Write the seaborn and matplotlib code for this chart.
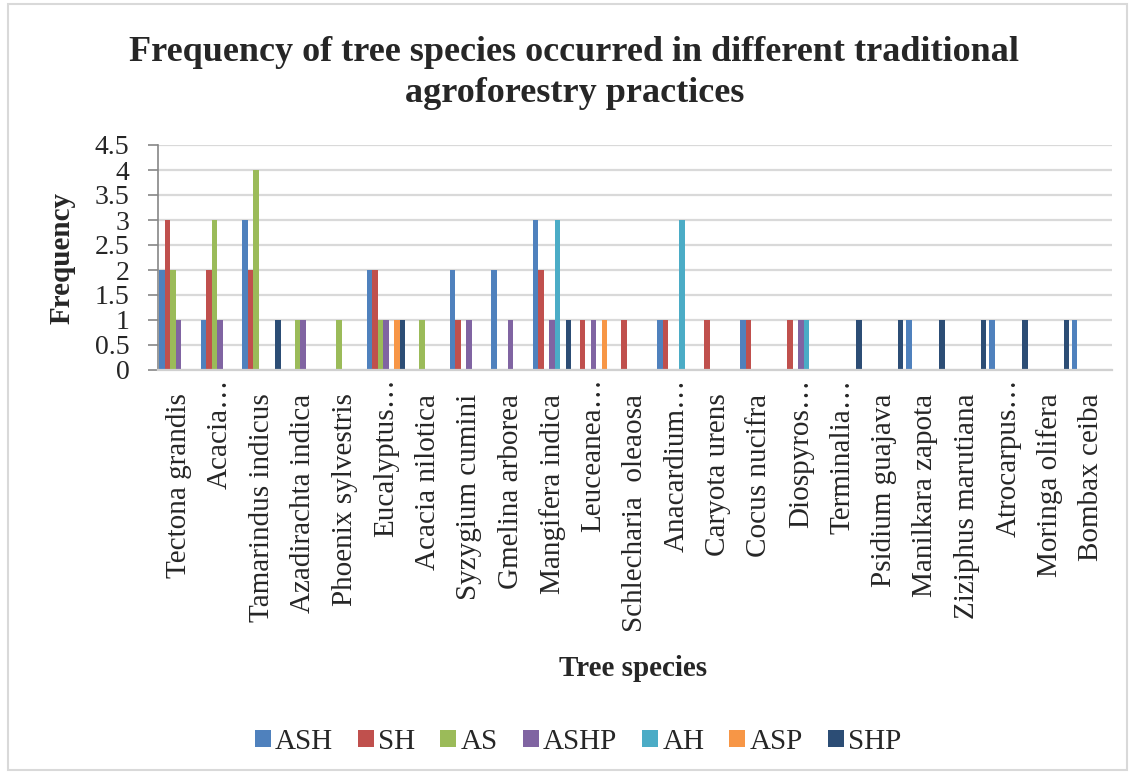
import matplotlib
matplotlib.use("Agg")
import matplotlib.pyplot as plt
import matplotlib.transforms as mtransforms
from matplotlib.patches import Patch, Rectangle
from matplotlib.ticker import FormatStrFormatter
import seaborn as sns
import pandas as pd
import numpy as np

species = ["Tectona grandis", "Acacia…", "Tamarindus indicus", "Azadirachta indica",
           "Phoenix sylvestris", "Eucalyptus…", "Acacia nilotica", "Syzygium cumini",
           "Gmelina arborea", "Mangifera indica", "Leuceanea…", "Schlecharia  oleaosa",
           "Anacardium…", "Caryota urens", "Cocus nucifra", "Diospyros…", "Terminalia…",
           "Psidium guajava", "Manilkara zapota", "Ziziphus marutiana", "Atrocarpus…",
           "Moringa olifera", "Bombax ceiba"]
series = ["ASH", "SH", "AS", "ASHP", "AH", "ASP", "SHP"]

ash  = [2, 1, 3, 0, 0, 2, 0, 2, 2, 3, 0, 0, 1, 0, 1, 0, 0, 0, 1, 0, 1, 0, 1]
sh   = [3, 2, 2, 0, 0, 2, 0, 1, 0, 2, 1, 1, 1, 1, 1, 1, 0, 0, 0, 0, 0, 0, 0]
as_  = [2, 3, 4, 1, 1, 1, 1, 0, 0, 0, 0, 0, 0, 0, 0, 0, 0, 0, 0, 0, 0, 0, 0]
ashp = [1, 1, 0, 1, 0, 1, 0, 1, 1, 1, 1, 0, 0, 0, 0, 1, 0, 0, 0, 0, 0, 0, 0]
ah   = [0, 0, 0, 0, 0, 0, 0, 0, 0, 3, 0, 0, 3, 0, 0, 1, 0, 0, 0, 0, 0, 0, 0]
asp  = [0, 0, 0, 0, 0, 1, 0, 0, 0, 0, 1, 0, 0, 0, 0, 0, 0, 0, 0, 0, 0, 0, 0]
shp  = [0, 0, 1, 0, 0, 1, 0, 0, 0, 1, 0, 0, 0, 0, 0, 0, 1, 1, 1, 1, 1, 1, 0]

colors = ["#4F81BD", "#C0504D", "#9BBB59", "#8064A2", "#4BACC6", "#F79646", "#2C4D75"]

values = {"ASH": ash, "SH": sh, "AS": as_, "ASHP": ashp, "AH": ah, "ASP": asp, "SHP": shp}
rows = []
for s in series:
    for sp, v in zip(species, values[s]):
        rows.append({"species": sp, "series": s, "freq": v})
df = pd.DataFrame(rows)

sns.set_theme(style="white")
plt.rcParams["font.family"] = ["Liberation Serif", "DejaVu Serif"]

W, H = 1133, 772
fig = plt.figure(figsize=(W / 100, H / 100), dpi=100)
ax = fig.add_axes([158 / W, 1 - 370 / H, (1112 - 158) / W, (370 - 145) / H])

sns.barplot(data=df, x="species", y="freq", hue="series", hue_order=series,
            order=species, palette=colors, width=0.93, ax=ax, linewidth=0,
            saturation=1, legend=False, errorbar=None)

ax.set_xlim(-0.5, len(species) - 0.5)
ax.set_ylim(0, 4.5)
ax.set_yticks(np.arange(0, 4.51, 0.5))
ax.yaxis.set_major_formatter(FormatStrFormatter("%g"))
ax.yaxis.grid(True, color="#D9D9D9", lw=1.6)
ax.xaxis.grid(False)
ax.set_axisbelow(True)
for side in ["top", "right"]:
    ax.spines[side].set_visible(False)
ax.spines["left"].set_color("#868686")
ax.spines["left"].set_linewidth(1.2)
ax.spines["bottom"].set_color("#D0D0D0")
ax.spines["bottom"].set_linewidth(1.6)

ax.tick_params(axis="y", direction="out", length=7, width=1.2, color="#868686",
               pad=13.5, labelsize=20, left=True)
ax.tick_params(axis="x", length=0, pad=17, labelsize=21)
ax.set_xticks(range(len(species)))
ax.set_xticklabels(species, rotation=90, va="top", ha="center")
# truncated (ellipsis) labels sit a little higher, as in the reference
shift = mtransforms.ScaledTranslation(0, 15 / 100, fig.dpi_scale_trans)
for lab in ax.get_xticklabels():
    if lab.get_text().endswith("…"):
        lab.set_transform(lab.get_transform() + shift)
ax.set_xlabel("")
ax.set_ylabel("")

fig.text(0.507, 1 - 73 / H,
         "Frequency of tree species occurred in different traditional\nagroforestry practices",
         ha="center", va="center", fontsize=26, fontweight="bold", linespacing=1.32)
fig.text(62 / W, 1 - 258 / H, "Frequency", rotation=90, ha="center", va="center",
         fontsize=21, fontweight="bold")
fig.text(633 / W, 1 - 668 / H, "Tree species", ha="center", va="center",
         fontsize=21, fontweight="bold")

handles = [Patch(facecolor=c, edgecolor="none", label=s) for s, c in zip(series, colors)]
fig.legend(handles=handles, loc="center", bbox_to_anchor=(578 / W, 1 - 742 / H),
           ncol=7, frameon=False, fontsize=21, handlelength=0.55, handleheight=0.55,
           columnspacing=0.85, handletextpad=0.15)

fig.patches.append(Rectangle((8 / W, 2 / H), (W - 14) / W, (H - 6) / H,
                             transform=fig.transFigure, fill=False,
                             edgecolor="#D9D9D9", lw=1.5))

fig.savefig("out.png", dpi=100)
